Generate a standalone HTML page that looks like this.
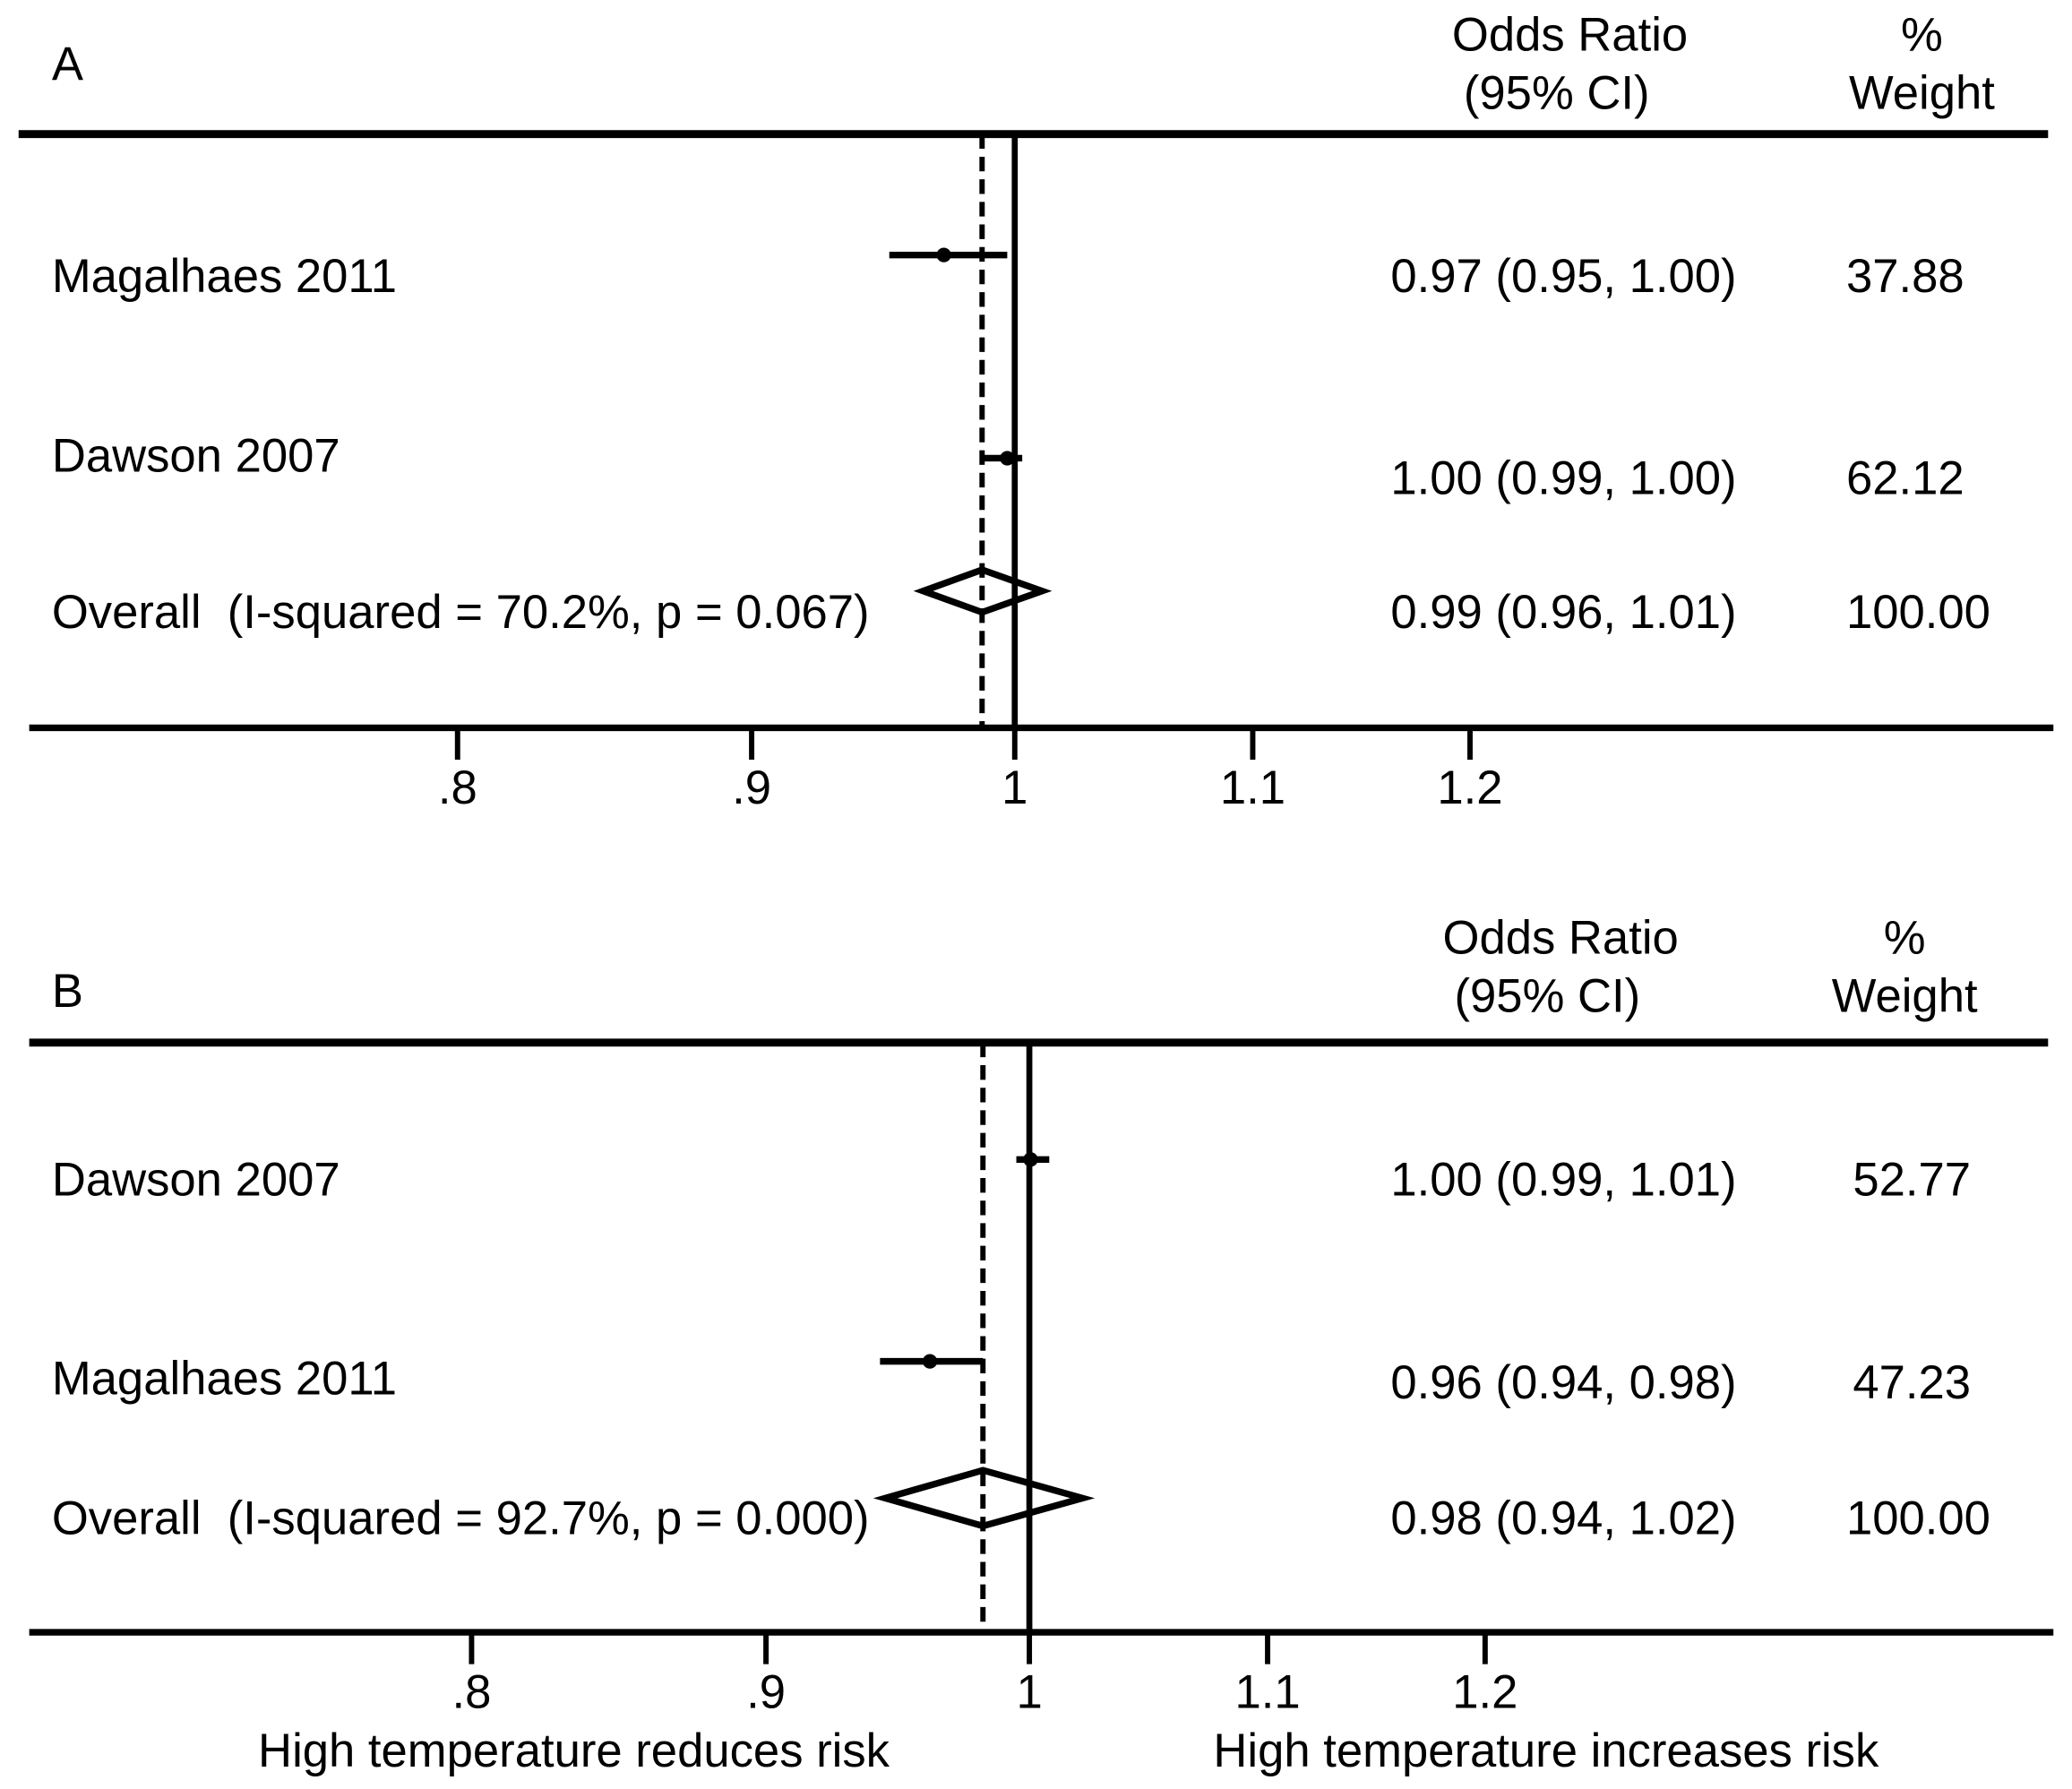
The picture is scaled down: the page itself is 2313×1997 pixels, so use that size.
<!DOCTYPE html>
<html><head><meta charset="utf-8"><style>
html,body{margin:0;padding:0;background:#fff;}
svg{display:block;}
text{font-family:"Liberation Sans",Arial,sans-serif;font-size:35.5px;fill:#000;white-space:pre;}
</style></head><body>
<svg id="chart" width="2313" height="1997" viewBox="0 0 1560 1347" preserveAspectRatio="none" xmlns="http://www.w3.org/2000/svg" xml:space="preserve"></svg>
<script>
const tickValues = [0.8, 0.9, 1, 1.1, 1.2];
const tickLabels = [".8", ".9", "1", "1.1", "1.2"];
const studiesA = ["Magalhaes 2011", "Dawson 2007"];
const estA = [0.972, 0.997];
const loA = [0.951, 0.987];
const hiA = [0.997, 1.003];
const orTextA = ["0.97 (0.95, 1.00)", "1.00 (0.99, 1.00)"];
const weightA = ["37.88", "62.12"];
const overallA = [0.987, 0.964, 1.011];
const overallTextA = ["Overall  (I-squared = 70.2%, p = 0.067)", "0.99 (0.96, 1.01)", "100.00"];
const studiesB = ["Dawson 2007", "Magalhaes 2011"];
const estB = [1.0005, 0.961];
const loB = [0.9948, 0.942];
const hiB = [1.008, 0.9816];
const orTextB = ["1.00 (0.99, 1.01)", "0.96 (0.94, 0.98)"];
const weightB = ["52.77", "47.23"];
const overallB = [0.9816, 0.944, 1.0215];
const overallTextB = ["Overall  (I-squared = 92.7%, p = 0.000)", "0.98 (0.94, 1.02)", "100.00"];

const svg = document.getElementById('chart');
const NS = 'http://www.w3.org/2000/svg';
function mk(tag, attrs, name, txt) {
  const e = document.createElementNS(NS, tag);
  for (const k in attrs) e.setAttribute(k, attrs[k]);
  
  
  if (txt !== undefined) e.textContent = txt;
  svg.appendChild(e);
  return e;
}
function panel(p) {
  const x = v => p.x1 + p.k * Math.log(v);
  mk('line', {x1:p.topX0, x2:1542, y1:p.topY, y2:p.topY, stroke:'#000','stroke-width':6}, 'header-rule-'+p.id);
  mk('line', {x1:22, x2:1546, y1:p.axY, y2:p.axY, stroke:'#000','stroke-width':5}, 'x-axis-'+p.id);
  tickValues.forEach((v,i) => {
    mk('line', {x1:x(v), x2:x(v), y1:p.axY, y2:p.axY+24, stroke:'#000','stroke-width':4}, 'x-tick-'+p.id);
    mk('text', {x:x(v), y:p.axY+57, 'text-anchor':'middle'}, 'x-tick-label-'+p.id, tickLabels[i]);
  });
  mk('line', {x1:x(1), x2:x(1), y1:p.topY, y2:p.axY, stroke:'#000','stroke-width':4.5}, 'null-line-'+p.id);
  mk('line', {x1:x(p.ov[0]), x2:x(p.ov[0]), y1:p.topY, y2:p.axY, stroke:'#000','stroke-width':4,'stroke-dasharray':'11,6'}, 'overall-effect-line-'+p.id);
  mk('text', {x:39, y:p.letterY}, 'panel-label-'+p.id, p.id.toUpperCase());
  mk('text', {x:p.orX, y:p.hY, 'text-anchor':'middle'}, 'or-header', 'Odds Ratio');
  mk('text', {x:p.orX-10, y:p.hY+44, 'text-anchor':'middle'}, 'ci-header', '(95% CI)');
  mk('text', {x:p.wX, y:p.hY, 'text-anchor':'middle'}, 'weight-header', '%');
  mk('text', {x:p.wX, y:p.hY+44, 'text-anchor':'middle'}, 'weight-header', 'Weight');
  p.names.forEach((n,i) => {
    const y = p.markY[i];
    mk('line', {x1:x(p.lo[i]), x2:x(p.hi[i]), y1:y, y2:y, stroke:'#000','stroke-width':5}, 'ci-line-'+p.id);
    mk('circle', {cx:x(p.est[i]), cy:y, r:5.5, fill:'#000'}, 'point-estimate-'+p.id);
    mk('text', {x:39, y:p.labY[i]}, 'study-label', n);
    mk('text', {x:1047, y:p.valY[i]}, 'odds-ratio-value', p.ort[i]);
    mk('text', {x:p.wStart, y:p.valY[i]}, 'weight-value', p.w[i]);
  });
  const cx = x(p.ov[0]), l = x(p.ov[1]), r = x(p.ov[2]), cy = p.diaY, h = p.diaH;
  mk('polygon', {points:`${l},${cy} ${cx},${cy-h} ${r},${cy} ${cx},${cy+h}`, fill:'none', stroke:'#000','stroke-width':5}, 'overall-diamond-'+p.id);
  mk('text', {x:39, y:p.ovY}, 'overall-label', p.ovt[0]);
  mk('text', {x:1047, y:p.ovY}, 'overall-or-value', p.ovt[1]);
  mk('text', {x:1390, y:p.ovY}, 'overall-weight', p.ovt[2]);
}
panel({id:'a', x1:764, k:1880, topX0:14, topY:101, axY:548, letterY:60, hY:38, orX:1182, wX:1447,
  names:studiesA, est:estA, lo:loA, hi:hiA, ort:orTextA, w:weightA, ov:overallA, ovt:overallTextA,
  markY:[192,345], labY:[220,355], valY:[220,372], wStart:1390, diaY:445, diaH:16, ovY:473});
panel({id:'b', x1:775, k:1882, topX0:22, topY:785, axY:1229, letterY:758, hY:718, orX:1175, wX:1434,
  names:studiesB, est:estB, lo:loB, hi:hiB, ort:orTextB, w:weightB, ov:overallB, ovt:overallTextB,
  markY:[873,1025], labY:[900,1050], valY:[900,1053], wStart:1395, diaY:1128, diaH:21, ovY:1155});
mk('text', {x:432, y:1330, 'text-anchor':'middle'}, 'favours-left-label', 'High temperature reduces risk');
mk('text', {x:1164, y:1330, 'text-anchor':'middle'}, 'favours-right-label', 'High temperature increases risk');
</script>
</body></html>
